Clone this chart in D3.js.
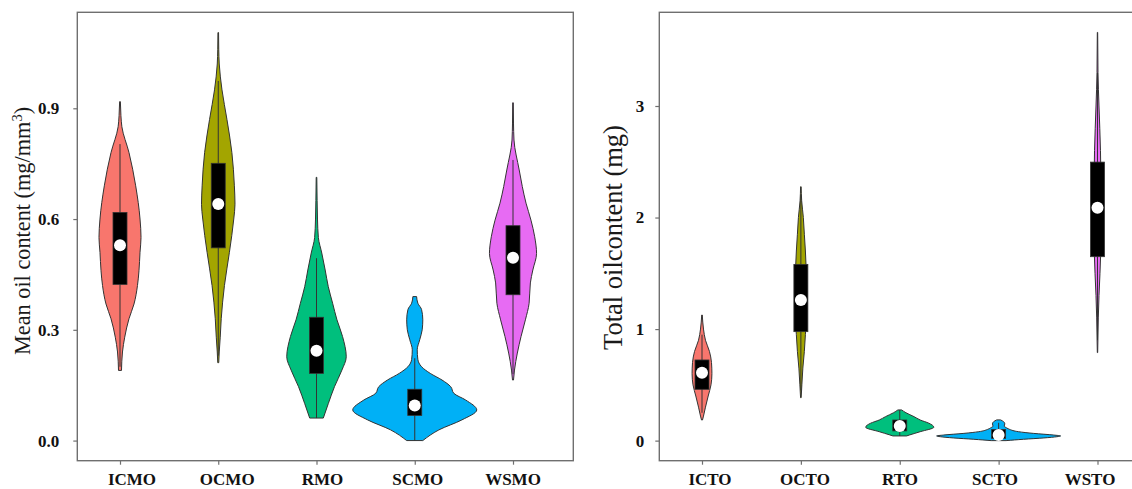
<!DOCTYPE html>
<html>
<head>
<meta charset="utf-8">
<script src="https://cdn.jsdelivr.net/npm/d3@7/dist/d3.min.js"></script>
<style>
    body { margin: 0; background: #fff; }
    svg { display: block; font-family: "Liberation Serif", "Times New Roman", serif; }
</style>
</head>
<body>
<svg id="chart" width="1132" height="489"></svg>
<script>
// categories
const meanCats = ['ICMO', 'OCMO', 'RMO', 'SCMO', 'WSMO'];
const totalCats = ['ICTO', 'OCTO', 'RTO', 'SCTO', 'WSTO'];
const fills = ['#F8766D', '#A3A500', '#00BF7D', '#00B0F6', '#E76BF3'];

const meanTicks = [0, 0.3, 0.6, 0.9];
const totalTicks = [0, 1, 2, 3];

// violin profiles: value levels + relative density (1 = widest violin)
const icmoLevels = [0.19, 0.24, 0.28, 0.33, 0.37, 0.42, 0.46, 0.51, 0.55, 0.60, 0.69, 0.78, 0.85, 0.88, 0.918];
const icmoDensity = [0.024, 0.04, 0.076, 0.145, 0.226, 0.282, 0.306, 0.323, 0.339, 0.323, 0.253, 0.145, 0.03, 0.015, 0.006];
const ocmoLevels = [0.211, 0.24, 0.28, 0.33, 0.42, 0.51, 0.60, 0.64, 0.69, 0.78, 0.87, 0.95, 1.02, 1.06, 1.105];
const ocmoDensity = [0.008, 0.016, 0.032, 0.048, 0.10, 0.18, 0.25, 0.27, 0.26, 0.22, 0.14, 0.06, 0.016, 0.008, 0.005];
const rmoLevels = [0.061, 0.10, 0.146, 0.191, 0.227, 0.282, 0.327, 0.372, 0.417, 0.462, 0.508, 0.55, 0.60, 0.65, 0.713];
const rmoDensity = [0.11, 0.19, 0.29, 0.41, 0.48, 0.42, 0.33, 0.26, 0.19, 0.14, 0.085, 0.03, 0.016, 0.01, 0.005];
const scmoLevels = [0.0, 0.029, 0.056, 0.083, 0.11, 0.128, 0.146, 0.164, 0.182, 0.20, 0.22, 0.246, 0.273, 0.30, 0.327, 0.355, 0.372, 0.39];
const scmoDensity = [0.13, 0.39, 0.76, 1.0, 0.82, 0.63, 0.58, 0.44, 0.25, 0.11, 0.05, 0.04, 0.08, 0.12, 0.13, 0.11, 0.05, 0.03];
const wsmoLevels = [0.164, 0.191, 0.237, 0.282, 0.327, 0.372, 0.427, 0.462, 0.507, 0.552, 0.597, 0.643, 0.688, 0.733, 0.814, 0.86, 0.915];
const wsmoDensity = [0.008, 0.024, 0.07, 0.13, 0.2, 0.26, 0.28, 0.32, 0.38, 0.35, 0.29, 0.21, 0.15, 0.1, 0.016, 0.008, 0.005];

const ictoLevels = [0.185, 0.22, 0.3, 0.4, 0.5, 0.6, 0.7, 0.8, 0.9, 1.0, 1.126];
const ictoDensity = [0.008, 0.024, 0.056, 0.1, 0.145, 0.16, 0.153, 0.12, 0.056, 0.024, 0.005];
const octoLevels = [0.385, 0.5, 0.65, 0.8, 0.95, 1.1, 1.3, 1.5, 1.7, 1.85, 2.0, 2.15, 2.276];
const octoDensity = [0.005, 0.016, 0.032, 0.056, 0.073, 0.089, 0.097, 0.089, 0.073, 0.056, 0.04, 0.013, 0.005];
const rtoLevels = [0.042, 0.051, 0.08, 0.12, 0.156, 0.185, 0.215, 0.25, 0.275];
const rtoDensity = [0.11, 0.16, 0.33, 0.55, 0.47, 0.33, 0.23, 0.1, 0.03];
const sctoLevels = [0.0, 0.012, 0.024, 0.035, 0.042, 0.05, 0.065, 0.08, 0.1, 0.114, 0.13, 0.15, 0.17, 0.186];
const sctoDensity = [0.12, 0.4, 0.73, 0.94, 1.0, 0.89, 0.56, 0.32, 0.18, 0.13, 0.09, 0.1, 0.08, 0.03];
const wstoLevels = [0.789, 1.1, 1.3, 1.5, 1.7, 2.0, 2.3, 2.6, 2.8, 3.0, 3.3, 3.66];
const wstoDensity = [0.003, 0.013, 0.024, 0.04, 0.053, 0.06, 0.056, 0.048, 0.037, 0.024, 0.008, 0.003];

// box stats: [whisker low, q1, median, q3, whisker high]
const meanBoxes = [
    [0.20, 0.423, 0.529, 0.618, 0.803],
    [0.23, 0.522, 0.641, 0.751, 0.974],
    [0.061, 0.182, 0.243, 0.334, 0.494],
    [0.0, 0.068, 0.095, 0.139, 0.223],
    [0.18, 0.395, 0.495, 0.582, 0.76]
];
const totalBoxes = [
    [0.25, 0.46, 0.609, 0.723, 0.95],
    [0.45, 0.977, 1.26, 1.58, 2.2],
    [0.042, 0.087, 0.132, 0.185, 0.275],
    [0.0, 0.02, 0.051, 0.10, 0.16],
    [0.9, 1.649, 2.088, 2.497, 3.3]
];

const meanProfiles = [
    [icmoLevels, icmoDensity], [ocmoLevels, ocmoDensity], [rmoLevels, rmoDensity],
    [scmoLevels, scmoDensity], [wsmoLevels, wsmoDensity]
];
const totalProfiles = [
    [ictoLevels, ictoDensity], [octoLevels, octoDensity], [rtoLevels, rtoDensity],
    [sctoLevels, sctoDensity], [wstoLevels, wstoDensity]
];

const svg = d3.select('#chart');
const halfWidth = d3.scaleLinear().domain([0, 1]).range([0, 62]);
const boxHalf = 7;
const frameColor = '#6f6f6f';
const ink = '#333';

const drawPanel = (cfg) => {
    const g = svg.append('g');
    const { left, right, top, bottom } = cfg.frame;

    const y = d3.scaleLinear().domain(cfg.yDomain).range([bottom, top]);
    const x = d3.scalePoint().domain(cfg.cats).range(cfg.tickRange);
    const xLabel = d3.scalePoint().domain(cfg.cats).range(cfg.labelRange);

    // violins
    const area = d3.area()
        .curve(d3.curveMonotoneY)
        .y((d) => y(d[0]));

    cfg.cats.forEach((cat, i) => {
        const cx = x(cat);
        const [levels, dens] = cfg.profiles[i];
        const pts = levels.map((v, j) => [v, dens[j]]);
        area.x0((d) => cx - halfWidth(d[1])).x1((d) => cx + halfWidth(d[1]));
        g.append('path')
            .attr('d', area(pts))
            .attr('fill', fills[i])
            .attr('stroke', ink)
            .attr('stroke-width', 1);

        const [lo, q1, med, q3, hi] = cfg.boxes[i];
        g.append('line')
            .attr('x1', cx).attr('x2', cx)
            .attr('y1', y(lo)).attr('y2', y(hi))
            .attr('stroke', ink)
            .attr('stroke-width', 1);
        g.append('rect')
            .attr('x', cx - boxHalf)
            .attr('y', y(q3))
            .attr('width', boxHalf * 2)
            .attr('height', y(q1) - y(q3))
            .attr('fill', '#000')
            .attr('stroke', ink)
            .attr('stroke-width', 0.8);
        g.append('circle')
            .attr('cx', cx)
            .attr('cy', y(med))
            .attr('r', 6)
            .attr('fill', '#fff');
    });

    // frame
    g.append('rect')
        .attr('x', left).attr('y', top)
        .attr('width', right - left).attr('height', bottom - top)
        .attr('fill', 'none')
        .attr('stroke', frameColor)
        .attr('stroke-width', 1.4);

    // y axis
    const yAxis = g.append('g')
        .attr('transform', `translate(${left},0)`)
        .call(d3.axisLeft(y).tickValues(cfg.ticks).tickFormat(cfg.fmt).tickSize(4).tickPadding(cfg.tickPad));
    yAxis.select('.domain').remove();
    yAxis.selectAll('.tick line').attr('stroke', frameColor).attr('stroke-width', 1.2);
    yAxis.selectAll('.tick text')
        .attr('fill', '#111')
        .style('font-family', '"Liberation Serif", "Times New Roman", serif')
        .style('font-weight', 'bold')
        .style('font-size', '17px');

    // x axis ticks, labels placed separately
    const xAxis = g.append('g')
        .attr('transform', `translate(0,${bottom})`)
        .call(d3.axisBottom(x).tickFormat('').tickSize(4));
    xAxis.select('.domain').remove();
    xAxis.selectAll('.tick line').attr('stroke', frameColor).attr('stroke-width', 1.2);

    g.selectAll('.xlab')
        .data(cfg.cats)
        .enter()
        .append('text')
        .attr('class', 'xlab')
        .attr('x', (d) => xLabel(d))
        .attr('y', bottom + 24.5)
        .attr('text-anchor', 'middle')
        .attr('fill', '#111')
        .style('font-weight', 'bold')
        .style('font-size', '17px')
        .text((d) => d);

    // y title
    const title = g.append('text')
        .attr('transform', `translate(${cfg.titleX},${cfg.titleY}) rotate(-90)`)
        .attr('text-anchor', 'middle')
        .attr('fill', '#1a1a1a')
        .style('font-size', cfg.titleSize);
    title.append('tspan').text(cfg.title);
    if (cfg.titleSup) {
        title.append('tspan')
            .attr('dy', '-0.55em')
            .style('font-size', '0.65em')
            .text(cfg.titleSup);
        title.append('tspan')
            .attr('dy', '0.36em')
            .text(')');
    }
};

drawPanel({
    cats: meanCats,
    profiles: meanProfiles,
    boxes: meanBoxes,
    ticks: meanTicks,
    fmt: d3.format('.1f'),
    yDomain: [-0.0545, 1.16],
    frame: { left: 77.3, right: 573.3, top: 12.3, bottom: 460.7 },
    tickRange: [120, 513],
    labelRange: [132, 513],
    tickPad: 14,
    title: 'Mean oil content (mg/mm',
    titleSup: '3',
    titleX: 29.5,
    titleY: 231,
    titleSize: '22.3px'
});

drawPanel({
    cats: totalCats,
    profiles: totalProfiles,
    boxes: totalBoxes,
    ticks: totalTicks,
    fmt: d3.format('d'),
    yDomain: [-0.18, 3.84],
    frame: { left: 659.3, right: 1140, top: 12.3, bottom: 460.7 },
    tickRange: [702, 1097.5],
    labelRange: [710, 1090],
    tickPad: 11,
    title: 'Total oilcontent (mg)',
    titleX: 622,
    titleY: 237.5,
    titleSize: '26.5px'
});
</script>
</body>
</html>
